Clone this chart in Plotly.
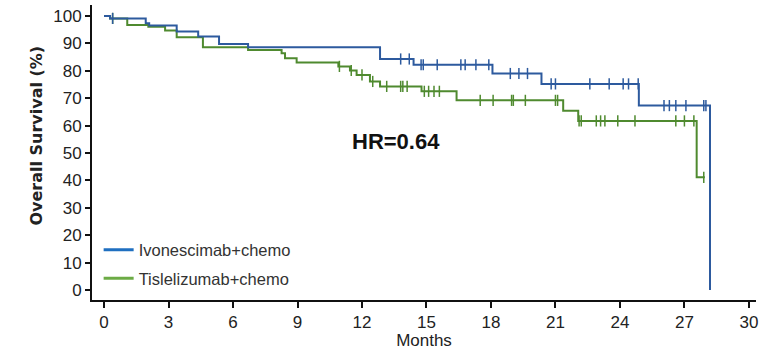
import numpy as np
import plotly.graph_objects as go

# ---- data ----
blue_name = "Ivonescimab+chemo"
green_name = "Tislelizumab+chemo"

blue_t = [0, 0.28, 1.94, 2.1, 3.38, 4.38, 5.35, 6.7, 12.84, 14.4, 18.07, 20.35, 24.88, 28.19]
blue_s = [100, 99.1, 97.3, 96.5, 94.3, 92.5, 89.8, 88.6, 84.3, 82.2, 79.0, 75.2, 67.3, 0]
blue_cens = [0.4, 13.8, 14.2, 14.75, 14.85, 15.5, 16.6, 16.8, 17.3, 17.9, 18.9, 19.3, 19.7,
             20.8, 21.0, 22.6, 23.5, 24.15, 24.4, 24.85, 26.05, 26.3, 26.6, 27.07, 27.9, 28.0]

green_t = [0, 0.28, 1.08, 2.06, 2.84, 3.38, 4.6, 6.7, 8.26, 8.42, 8.96, 10.9, 11.44, 11.75,
           12.37, 12.84, 14.77, 16.4, 21.36, 22.06, 27.57, 27.95]
green_s = [100, 99.1, 96.7, 96.1, 94.7, 92.2, 88.6, 87.6, 86.4, 84.6, 83.0, 81.6, 80.1, 78.5,
           76.1, 74.3, 72.5, 69.2, 65.4, 61.7, 41.1, 41.1]
green_cens = [0.4, 10.95, 11.5, 12.0, 12.5, 13.15, 13.8, 13.9, 14.1, 14.9, 15.1, 15.35, 15.6,
              17.5, 18.1, 18.96, 19.04, 19.6, 21.0, 21.1, 22.1, 22.2, 22.9, 23.1, 23.3, 23.9,
              24.7, 26.6, 27.0, 27.44, 27.9]

x_ticks = [0, 3, 6, 9, 12, 15, 18, 21, 24, 27, 30]
y_ticks = [0, 10, 20, 30, 40, 50, 60, 70, 80, 90, 100]
hr_text = "HR=0.64"
x_title = "Months"
y_title = "Overall Survival (%)"

# ---- styling ----
BLUE = "#2d5a9e"
GREEN = "#4f8a2f"
BLUE_LEG = "#1f6fc0"
GREEN_LEG = "#6cab45"
FONT = "Liberation Sans, Arial, sans-serif"


def step_value(t_list, s_list, times):
    t = np.asarray(t_list)
    s = np.asarray(s_list)
    idx = np.searchsorted(t, np.asarray(times), side="right") - 1
    return s[idx]


fig = go.Figure()

for t, s, cens, col in [(green_t, green_s, green_cens, GREEN), (blue_t, blue_s, blue_cens, BLUE)]:
    fig.add_trace(go.Scatter(x=t, y=s, mode="lines", line=dict(color=col, width=2, shape="hv"),
                             showlegend=False, hoverinfo="skip"))
    fig.add_trace(go.Scatter(x=cens, y=step_value(t, s, cens), mode="markers",
                             marker=dict(symbol="line-ns-open", size=8, color=col,
                                         line=dict(color=col, width=1.5)),
                             showlegend=False, hoverinfo="skip"))

# legend entries
fig.add_trace(go.Scatter(x=[None], y=[None], mode="lines", name=blue_name,
                         line=dict(color=BLUE_LEG, width=3), legendgroup="a"))
fig.add_trace(go.Scatter(x=[None], y=[None], mode="lines", name=green_name,
                         line=dict(color=GREEN_LEG, width=3), legendgroup="b"))

fig.add_annotation(x=13.6, y=54.2, text="<b>" + hr_text + "</b>", showarrow=False,
                   font=dict(family=FONT, size=22, color="#111"),
                   xanchor="center", yanchor="middle")

fig.add_annotation(xref="paper", yref="paper", x=-0.084, y=0.558, text="<b>" + y_title + "</b>",
                   textangle=-90, showarrow=False, xanchor="center", yanchor="middle",
                   font=dict(family="DejaVu Sans, Verdana, sans-serif", size=16, color="#222"))

fig.update_layout(
    width=764, height=350,
    margin=dict(l=92, r=8, t=5, b=50),
    paper_bgcolor="white", plot_bgcolor="white",
    font=dict(family=FONT, size=16, color="#222"),
    legend=dict(x=0.01, y=0.015, xanchor="left", yanchor="bottom",
                font=dict(family=FONT, size=16.5, color="#333"),
                bgcolor="rgba(0,0,0,0)", tracegroupgap=4, itemwidth=30),
)
fig.update_xaxes(range=[-0.56, 30.33], tickvals=x_ticks, ticktext=[str(v) for v in x_ticks],
                 showgrid=False, zeroline=False, showline=True, linecolor="#111", linewidth=2,
                 ticks="outside", ticklen=6, tickwidth=1.5, tickcolor="#111",
                 tickfont=dict(size=17),
                 title=dict(text=x_title, font=dict(size=17), standoff=2))
fig.update_yaxes(range=[-3.65, 104.0], tickvals=y_ticks, ticktext=[str(v) for v in y_ticks],
                 showgrid=False, zeroline=False, showline=True, linecolor="#111", linewidth=2,
                 ticks="outside", ticklen=5, tickwidth=1.5, tickcolor="#111",
                 tickfont=dict(size=17))

fig.write_html("out.html")
